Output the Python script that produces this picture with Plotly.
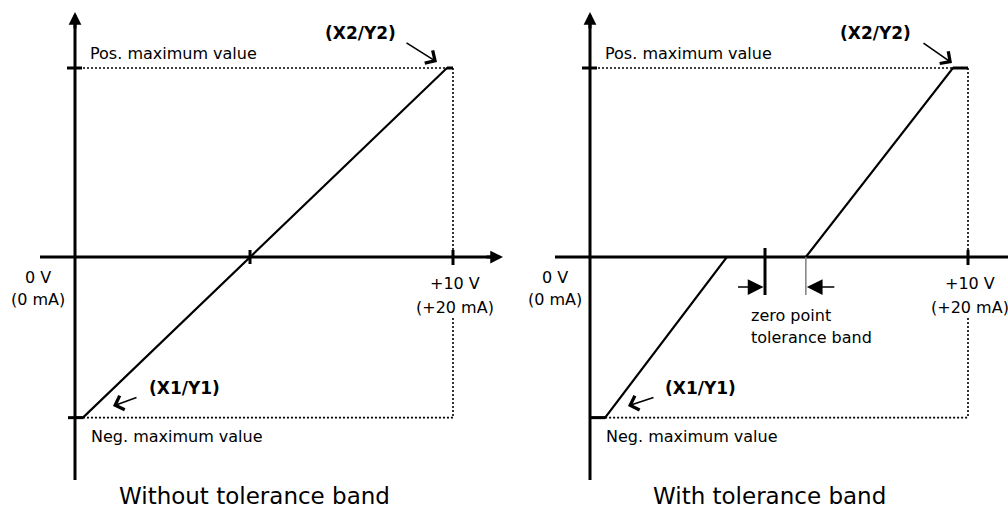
import plotly.graph_objects as go

# ---------------- data ----------------
# x: input signal in volts (0 V .. +10 V), y: output value (Y2 = pos. max, Y1 = neg. max)
volt_min = 0.0
volt_max = 10.0
pos_max = 100.0
neg_max = -85.0
zero_point = 4.63

# Without tolerance band: (X1/Y1) -> (X2/Y2) straight line
left_curve_x = [0.0, 0.21, 9.84, 10.0]
left_curve_y = [neg_max, neg_max, pos_max, pos_max]

# With tolerance band: flat part around the zero point
right_curve_x = [0.0, 0.40, 3.62, 5.71, 9.60, 10.0]
right_curve_y = [neg_max, neg_max, 0.0, 0.0, pos_max, pos_max]
band_edges = [4.63, 5.71]

x_tick_labels = [["0 V", "(0 mA)"], ["+10 V", "(+20 mA)"]]
level_labels = ["Pos. maximum value", "Neg. maximum value"]
point_labels = ["(X1/Y1)", "(X2/Y2)"]
panel_titles = ["Without tolerance band", "With tolerance band"]
band_label = ["zero point", "tolerance band"]

# ---------------- layout helpers ----------------
PXV = 37.8     # pixels per volt
PXU = 1.89     # pixels per output unit
Y0PX = 257     # pixel row of the x axis
W, H = 1008, 508
FONT = "DejaVu Sans"


def dv(px):
    return px / PXV


def du(px):
    return px / PXU


fig = go.Figure()

panels = [
    dict(xa="x", ya="y", cx=left_curve_x, cy=left_curve_y, origin=75, dom=[0, 0.5]),
    dict(xa="x2", ya="y2", cx=right_curve_x, cy=right_curve_y, origin=86, dom=[0.5, 1.0]),
]

shapes = []
annotations = []
BLACK = "#000000"


def line(xr, yr, x0, y0, x1, y1, width=3, color=BLACK, dash=None):
    d = dict(type="line", xref=xr, yref=yr, x0=x0, y0=y0, x1=x1, y1=y1,
             line=dict(color=color, width=width))
    if dash:
        d["line"]["dash"] = dash
    shapes.append(d)


def text(xr, yr, x, y, s, size=16, bold=False, xanchor="center", align="center"):
    annotations.append(dict(
        xref=xr, yref=yr, x=x, y=y, text=("<b>%s</b>" % s) if bold else s,
        showarrow=False, xanchor=xanchor, yanchor="middle", align=align,
        font=dict(family=FONT, size=size, color=BLACK)))


def arrow(xr, yr, x, y, ax, ay, head=2, width=1.5, size=1.0):
    annotations.append(dict(
        xref=xr, yref=yr, x=x, y=y, ax=ax, ay=ay, text="", showarrow=True,
        arrowhead=head, arrowwidth=width, arrowsize=size, arrowcolor=BLACK,
        standoff=0, startstandoff=0))


for i, p in enumerate(panels):
    xr, yr = p["xa"], p["ya"]
    right = (i == 1)
    cx, cy = p["cx"], p["cy"]
    x1v, x2v = cx[1], cx[-2]

    # characteristic curve
    fig.add_trace(go.Scatter(x=cx, y=cy, mode="lines", xaxis=xr, yaxis=yr,
                             line=dict(color=BLACK, width=2.2), showlegend=False,
                             hoverinfo="skip"))

    # dotted guide lines
    dot = "2px,2px"
    line(xr, yr, dv(8), pos_max, volt_max, pos_max, width=1.6, dash=dot)
    line(xr, yr, x1v, neg_max, volt_max, neg_max, width=1.6, dash=dot)
    line(xr, yr, volt_max, pos_max, volt_max, 0, width=1.6, dash=dot)
    line(xr, yr, volt_max, du(-61), volt_max, neg_max, width=1.6, dash=dot)

    # axes
    line(xr, yr, volt_min, du(Y0PX - 480), volt_min, du(Y0PX - 22), width=3)
    line(xr, yr, dv(-35), 0, dv(420), 0, width=3)
    arrow(xr, yr, volt_min, du(Y0PX - 12), 0, 18, head=2, width=3, size=0.85)
    arrow(xr, yr, dv(428), 0, -18, 0, head=2, width=3, size=0.85)

    # y ticks
    line(xr, yr, dv(-8), pos_max, dv(7), pos_max, width=3)
    if right:
        line(xr, yr, volt_min, neg_max, x1v, neg_max, width=3)
    else:
        line(xr, yr, dv(-7), neg_max, x1v, neg_max, width=3)
    # end of curve at top thicker
    line(xr, yr, x2v, pos_max, volt_max, pos_max, width=3)

    # x ticks
    if right:
        line(xr, yr, zero_point, du(9), zero_point, du(-38), width=3)
        line(xr, yr, band_edges[1], 0, band_edges[1], du(-38), width=1.5, color="#808080")
    else:
        line(xr, yr, zero_point, du(7), zero_point, du(-7), width=3)
    line(xr, yr, volt_max, du(7), volt_max, du(-8), width=3)

    # x tick labels
    ox = -37 if not right else -35
    text(xr, yr, dv(ox), du(-20), x_tick_labels[0][0])
    text(xr, yr, dv(ox), du(-42), x_tick_labels[0][1])
    text(xr, yr, volt_max + dv(2), du(-26), x_tick_labels[1][0])
    text(xr, yr, volt_max + dv(2), du(-50), x_tick_labels[1][1])

    # level labels
    text(xr, yr, dv(13), pos_max + du(15), level_labels[0], xanchor="left")
    text(xr, yr, dv(14), neg_max - du(19), level_labels[1], xanchor="left")

    # point labels + pointer arrows
    if right:
        text(xr, yr, dv(875 - 590), du(Y0PX - 33), point_labels[1], size=17, bold=True)
        arrow(xr, yr, dv(952 - 590), du(Y0PX - 63), -30, -21, head=4, width=1.6, size=1.8)
        text(xr, yr, dv(700 - 590), du(Y0PX - 388), point_labels[0], size=17, bold=True)
        arrow(xr, yr, dv(628 - 590), du(Y0PX - 406), 27, -9, head=4, width=1.6, size=1.8)
    else:
        text(xr, yr, dv(360 - 75), du(Y0PX - 33), point_labels[1], size=17, bold=True)
        arrow(xr, yr, dv(437 - 75), du(Y0PX - 62), -32, -20, head=4, width=1.6, size=1.8)
        text(xr, yr, dv(184 - 75), du(Y0PX - 388), point_labels[0], size=17, bold=True)
        arrow(xr, yr, dv(113 - 75), du(Y0PX - 406), 25, -9, head=4, width=1.6, size=1.8)

    # tolerance band markers
    if right:
        arrow(xr, yr, band_edges[0] - dv(1.5), du(-30), -27, 0, head=2, width=1.5, size=2.1)
        arrow(xr, yr, band_edges[1] + dv(1), du(-30), 29, 0, head=2, width=1.5, size=2.1)
        text(xr, yr, dv(749 - 590), du(-58), band_label[0], xanchor="left", align="left")
        text(xr, yr, dv(749 - 590), du(-80), band_label[1], xanchor="left", align="left")

    # panel title
    text(xr, yr, 4.75, du(Y0PX - 496), panel_titles[i], size=23)

ax_common = dict(visible=False, showgrid=False, zeroline=False, fixedrange=True)
fig.update_layout(
    width=W, height=H, autosize=False,
    margin=dict(l=0, r=0, t=0, b=0, pad=0),
    paper_bgcolor="white", plot_bgcolor="white",
    showlegend=False,
    xaxis=dict(domain=[0, 0.5], range=[dv(-75), dv(504 - 75)], **ax_common),
    xaxis2=dict(domain=[0.5, 1.0], range=[dv(-86), dv(504 - 86)], **ax_common),
    yaxis=dict(domain=[0, 1], range=[du(Y0PX - H), du(Y0PX)], **ax_common),
    yaxis2=dict(domain=[0, 1], range=[du(Y0PX - H), du(Y0PX)], anchor="x2", **ax_common),
    shapes=shapes,
    annotations=annotations,
)
fig.data[1].update(xaxis="x2", yaxis="y2")

fig.write_html(
    "out.html",
    config={"displayModeBar": False, "staticPlot": True},
    post_script="document.body.style.margin='0';document.body.style.padding='0';document.body.style.overflow='hidden';",
)
